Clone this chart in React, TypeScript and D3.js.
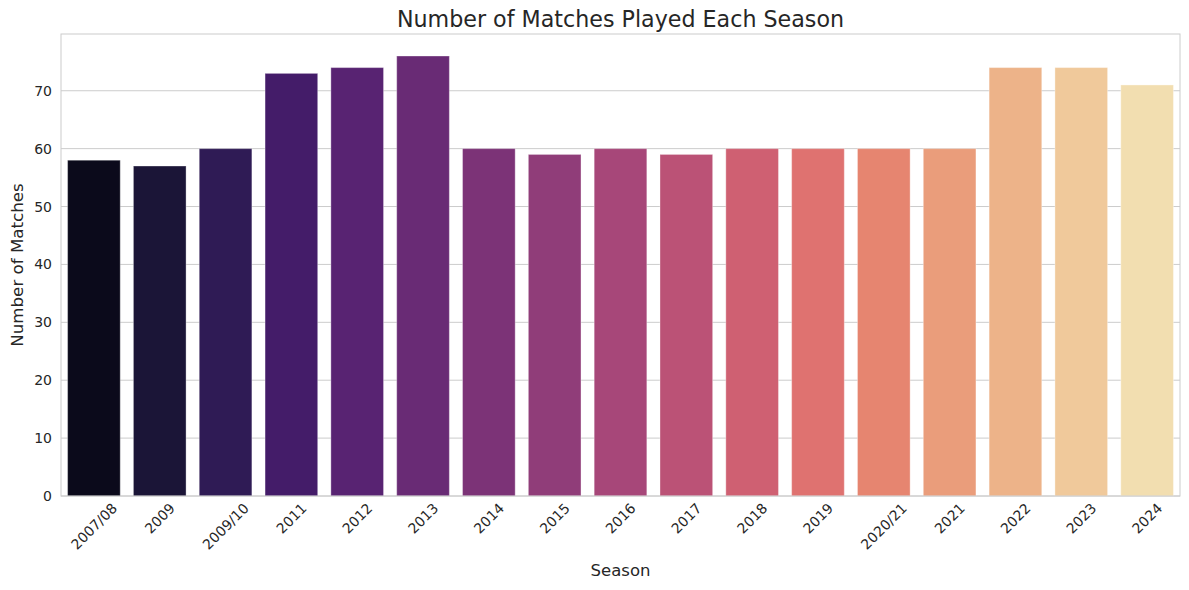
import React from "react";
import * as d3 from "d3";

const seasons = ["2007/08", "2009", "2009/10", "2011", "2012", "2013", "2014", "2015", "2016", "2017", "2018", "2019", "2020/21", "2021", "2022", "2023", "2024"];
const matches = [58, 57, 60, 73, 74, 76, 60, 59, 60, 59, 60, 60, 60, 60, 74, 74, 71];
const yTicks = [0, 10, 20, 30, 40, 50, 60, 70];

const W = 1189;
const H = 590;
const margin = { left: 61, right: 9, top: 34, bottom: 94 };
const font = "DejaVu Sans, sans-serif";
const ink = "#262626";

// seaborn-like desaturation of the magma palette
const desat = (c: string, p: number) => {
    const h = d3.hsl(c);
    h.s = h.s * p;
    return h.formatHex();
};

// rough DejaVu Sans glyph widths (em)
const textWidth = (s: string, size: number) =>
    s.split("").reduce((a, ch) => a + (ch === "/" ? 0.337 : 0.636), 0) * size;

const App = () => {
    const x = d3.scaleBand().domain(seasons).range([margin.left, W - margin.right]).paddingInner(0.2).paddingOuter(0.1);
    const y = d3.scaleLinear().domain([0, d3.max(matches)! * 1.05]).range([H - margin.bottom, margin.top]);
    const colors = seasons.map((_, i) => desat(d3.interpolateMagma((i + 1) / (seasons.length + 1)), 0.75));
    const bottom = H - margin.bottom;
    const tickSize = 14;

    return (
        <svg width={W} height={H} style={{ position: "absolute", left: 0, top: 0, background: "#fff" }} fontFamily={font}>
            {/* horizontal grid */}
            {yTicks.map((t) => (
                <line key={t} x1={margin.left} x2={W - margin.right} y1={y(t)} y2={y(t)} stroke="#cccccc" strokeWidth={1} />
            ))}
            {matches.map((v, i) => (
                <rect key={i}
                    x={x(seasons[i])} y={y(v)}
                    width={x.bandwidth()} height={bottom - y(v)}
                    fill={colors[i]}
                    stroke="#ffffff" strokeOpacity={0.35} strokeWidth={1}
                />
            ))}
            {/* spines */}
            <rect x={margin.left} y={margin.top} width={W - margin.left - margin.right} height={bottom - margin.top}
                fill="none" stroke="#cccccc" strokeWidth={1} />
            {yTicks.map((t) => (
                <text key={t} x={margin.left - 9} y={y(t)} dy="0.36em" textAnchor="end" fontSize={tickSize} fill={ink}>{t}</text>
            ))}
            {seasons.map((s) => {
                const w = textWidth(s, tickSize);
                const half = (w + tickSize * 0.95) / (2 * Math.SQRT2);
                const cx = x(s)! + x.bandwidth() / 2;
                const cy = bottom + 5 + half;
                return (
                    <text key={s} x={cx} y={cy} dy="0.36em" textAnchor="middle" fontSize={tickSize} fill={ink}
                        transform={`rotate(-45 ${cx} ${cy})`}>{s}</text>
                );
            })}
            <text x={(margin.left + W - margin.right) / 2} y={576} textAnchor="middle" fontSize={16.5} fill={ink}>Season</text>
            <text transform={`translate(23 ${(margin.top + bottom) / 2}) rotate(-90)`} textAnchor="middle" fontSize={16.7} fill={ink}>Number of Matches</text>
            <text x={(margin.left + W - margin.right) / 2} y={27} textAnchor="middle" fontSize={22.2} fill={ink}>Number of Matches Played Each Season</text>
        </svg>
    );
};

export default App;
